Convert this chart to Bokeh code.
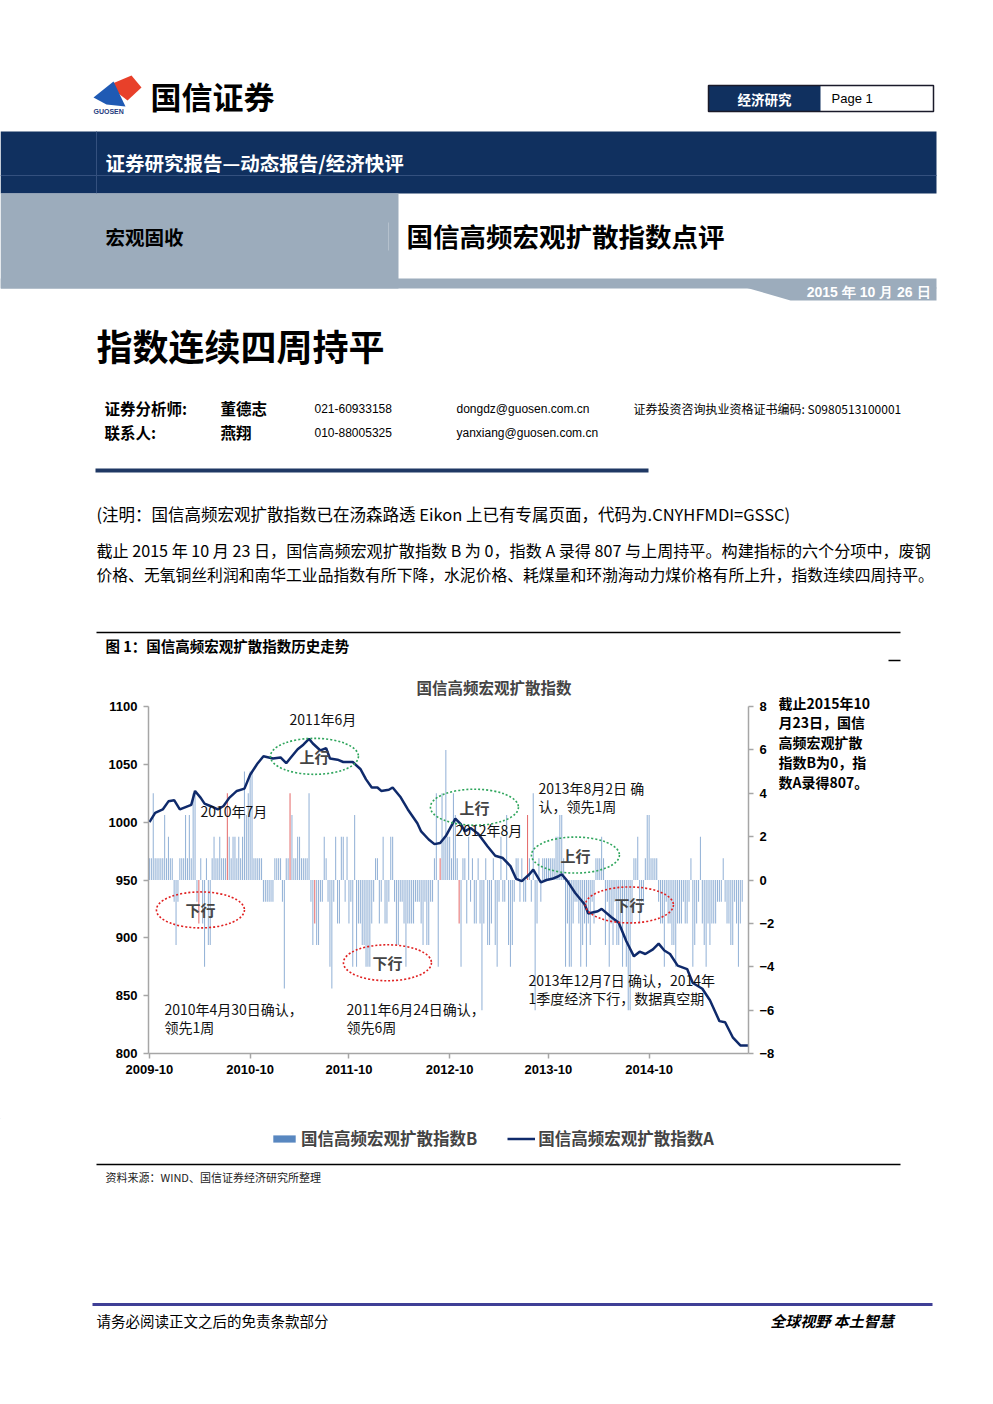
from bokeh.plotting import figure
from bokeh.models import Range1d, LinearAxis, FixedTicker, Legend, LegendItem, Label
from bokeh.layouts import column, row
from bokeh.embed import file_html
from bokeh.resources import INLINE
from bokeh.core.properties import value

CJK = "Noto Sans CJK SC"
LAT = "Liberation Sans"

# ---------------- data ----------------
tick_weeks = [0, 53, 105, 158, 210, 263]
tick_labels = ["2009-10", "2010-10", "2011-10", "2012-10", "2013-10", "2014-10"]
left_ticks = [800, 850, 900, 950, 1000, 1050, 1100]
right_ticks = [-8, -6, -4, -2, 0, 2, 4, 6, 8]
series_names = ["国信高频宏观扩散指数B", "国信高频宏观扩散指数A"]

# weekly diffusion index B (week 0 = early Oct 2009)
b_2009 = [1, 1, 4, 1, 1, 1, 1, 1, 3, 1, 2, 1, 1, -1, -3, -1, 1, 1, 1, 3,
          1, 3, 1, 4, 4, -1, -2, 1, -2, -4, 1, -3, -3, 1, 2, 1, 1, 2, 1, 1,
          1, 4, 2, 1, 2, 2, 1, 2, 1, 2, 5, 3, 4]
b_2010 = [5, 5, 1, 1, 1, 1, 1, -1, -1, -1, -1, -1, -1, 1, 1, 1, 1,
          -1, -5, 1, 1, 4, 3, 1, 1, 2, 2, 1, 1, 1, 1, 4, -1, -3, -2, -3, -3,
          -1, -1, 2, 1, -1, -4, -5, -1, 2, -2, -2, 2, 2, -1, 2, -2]
b_2011 = [-1, -4, 3, -4, -2, -2, -3, -3, -4, -4, -4, -2, -1, 1, 1, -2, -1, 2,
          -2, -2, -1, 2, 2, -1, -3, -3, -1, -1, -2, -4, -2, -2, -2, -2, -1, -1,
          -1, -2, -3, -1, -3, -3, -1, -1, 1, 4, -4, 1, 4, 2, 6, 2, 2]
b_2012 = [1, 4, 3, 1, -2, -4, 1, 1, -2, 2, -1, 1, -2, -2, 1, -2, -6, -2, 1,
          -3, -3, -2, 1, -3, -4, -1, 2, -1, -1, 3, -3, -4, -3, -1, 1, 1, -1, 1,
          -1, -1, 3, 1, -1, 4, -6, -2, 1, -1, 1, 1, 1, 1]
b_2013 = [1, 1, 1, 2, 2, 3, 3, 1, -4, -2, -4, -4, -2, -1, -1, -2, -4, -3,
          -2, -4, -2, -3, -1, -2, 1, 1, 1, 2, 1, -3, -1, -4, -2, -3, -1, -3,
          -3, -2, -4, -1, -4, -6, -6, -2, 1, 1, 2, -2, -1, -1, 1, 3, 3]
b_2014 = [1, 1, 1, 1, -1, -2, -2, -4, -1, -2, -2, -3, -3, -4, -2, -2, -2,
          -1, -2, -2, -1, 1, -4, -3, -2, -1, 2, -2, -3, -4, -2, -3, -2, -2, -2,
          -1, -1, -1, 1, -1, -2, -2, -3, -3, -1, -2, -4, -2, -1, 0, 0, 0, 0]
b_values = b_2009 + b_2010 + b_2011 + b_2012 + b_2013 + b_2014
highlight_weeks = [26, 41, 74, 87, 153, 163, 199]

# index A, read at turning points of the line
a_weeks = [0, 3, 7, 10, 13, 16, 19, 22, 24, 27, 29, 32, 36, 39, 42, 46, 50, 53, 57,
           60, 65, 69, 72, 74, 78, 81, 84, 86, 90, 93, 95, 99, 102, 107, 111, 114,
           117, 120, 122, 126, 128, 132, 136, 141, 143, 147, 150, 153, 156, 161,
           164, 166, 169, 173, 178, 182, 186, 190, 193, 196, 200, 202, 206, 209,
           212, 215, 217, 220, 224, 229, 231, 236, 238, 243, 247, 251, 255, 258,
           261, 265, 268, 271, 274, 278, 283, 286, 291, 295, 300, 303, 307, 311, 316]
a_values = [1000, 1008, 1011, 1018, 1019, 1011, 1013, 1015, 1027, 1021, 1016, 1014,
            1011, 1014, 1021, 1027, 1029, 1041, 1051, 1057, 1055, 1056, 1051, 1055,
            1063, 1067, 1072, 1068, 1062, 1064, 1055, 1054, 1052, 1052, 1046, 1037,
            1030, 1030, 1027, 1028, 1030, 1022, 1011, 999, 992, 985, 981, 982, 988,
            1003, 998, 992, 995, 990, 979, 971, 969, 962, 951, 949, 955, 959, 948,
            950, 951, 953, 955, 949, 939, 929, 921, 923, 925, 918, 913, 897, 884,
            888, 886, 890, 895, 889, 886, 876, 873, 861, 856, 846, 828, 827, 814,
            807, 807]

W = 977
TOP1 = 665        # page y where the chart block starts
CH1 = 1118        # page y where the chart block ends
BOT1 = 1396
CHART_W = 778     # chart figure width; side-note figure fills the rest

BAR_COLOR, BAR_ALPHA = "#4f81bd", 0.6
LINE_COLOR = "#0f2a6b"


def page_fig(x0, x1, y0, y1):
    p = figure(width=x1 - x0, height=y1 - y0, x_range=Range1d(x0, x1), y_range=Range1d(y1, y0),
               x_axis_type=None, y_axis_type=None, toolbar_location=None,
               output_backend="svg", min_border=0, outline_line_color=None)
    p.background_fill_color = "white"
    p.border_fill_color = "white"
    p.frame_align = False
    return p


def txt(p, x, y, s, size, bold=False, color="black", align="left", font=CJK, italic=False):
    style = "normal"
    if bold and italic:
        style = "bold italic"
    elif bold:
        style = "bold"
    elif italic:
        style = "italic"
    p.text(x=[x], y=[y], text=[s], text_font=value(font), text_font_size=value(f"{size}px"),
           text_font_style=style, text_color=color, text_align=align, text_baseline="middle")


NAVY = "#10305f"
GRAY = "#9cacbc"

# ---------------- top page part ----------------
top = page_fig(0, W, 0, TOP1)
top.patch([112, 131, 141, 127, 118], [83, 75, 87, 100, 93], color="#e8402a", line_color=None)
top.patch([93, 113, 125, 106], [97, 81, 106, 104], color="#1f5ab4", line_color=None)
txt(top, 93, 111, "GUOSEN", 7, bold=True, color="#1f3c80", font=LAT)
txt(top, 150, 95, "国信证券", 31, bold=True)
top.quad(left=[708], right=[820], top=[85], bottom=[111], color=NAVY, line_color=None)
top.quad(left=[708], right=[933], top=[85], bottom=[111], fill_color=None, line_color="#1a1a2a", line_width=1.5)
txt(top, 764, 98, "经济研究", 13.5, bold=True, color="white", align="center")
txt(top, 831, 98, "Page 1", 13, font=LAT)
top.quad(left=[0], right=[936], top=[131], bottom=[193], color=NAVY, line_color=None)
top.line([0, 936], [175, 175], line_color="#34507e", line_width=1)
top.line([96, 96], [131, 193], line_color="#34507e", line_width=1)
txt(top, 105, 162, "证券研究报告—动态报告/经济快评", 19.5, bold=True, color="white")
top.quad(left=[0], right=[398], top=[193], bottom=[288], color=GRAY, line_color=None)
top.quad(left=[0], right=[936], top=[278], bottom=[288], color=GRAY, line_color=None)
top.patch([745, 790, 936, 936], [287, 300, 300, 287], color=GRAY, line_color=None)
top.line([388, 388], [222, 250], line_color="#b5c1cd", line_width=1)
txt(top, 105, 236, "宏观固收", 19.5, bold=True)
txt(top, 406, 235, "国信高频宏观扩散指数点评", 26.5, bold=True)
txt(top, 930, 291, "2015 年 10 月 26 日", 14, bold=True, color="white", align="right", font=LAT)
txt(top, 96, 344, "指数连续四周持平", 36, bold=True)
txt(top, 104, 407, "证券分析师:", 15.5, bold=True)
txt(top, 220, 407, "董德志", 15.5, bold=True)
txt(top, 314, 408, "021-60933158", 12, font=LAT)
txt(top, 456, 408, "dongdz@guosen.com.cn", 12, font=LAT)
txt(top, 633, 408, "证券投资咨询执业资格证书编码: S0980513100001", 12)
txt(top, 104, 431, "联系人:", 15.5, bold=True)
txt(top, 220, 431, "燕翔", 15.5, bold=True)
txt(top, 314, 432, "010-88005325", 12, font=LAT)
txt(top, 456, 432, "yanxiang@guosen.com.cn", 12, font=LAT)
top.line([95, 648], [470, 470], line_color="#1f3864", line_width=4)
txt(top, 96, 513, "(注明：国信高频宏观扩散指数已在汤森路透 Eikon 上已有专属页面，代码为.CNYHFMDI=GSSC)", 16.5)
txt(top, 96, 549, "截止 2015 年 10 月 23 日，国信高频宏观扩散指数 B 为 0，指数 A 录得 807 与上周持平。构建指标的六个分项中，废钢", 16.1)
txt(top, 96, 574, "价格、无氧铜丝利润和南华工业品指数有所下降，水泥价格、耗煤量和环渤海动力煤价格有所上升，指数连续四周持平。", 15.8)
top.line([96, 900], [632, 632], line_color="black", line_width=1.5)
txt(top, 105, 645, "图 1：国信高频宏观扩散指数历史走势", 14.5, bold=True)
top.line([888, 900], [660, 660], line_color="black", line_width=1.5)

# ---------------- chart ----------------
c = figure(width=CHART_W, height=CH1 - TOP1, x_range=Range1d(-0.5, 315.3), y_range=Range1d(800, 1100),
           toolbar_location=None, output_backend="svg", min_border_left=148, min_border_right=30,
           min_border_top=40, min_border_bottom=CH1 - 1053, outline_line_color=None)
c.frame_align = False
c.background_fill_color = "white"
c.border_fill_color = "white"
c.xgrid.visible = False
c.ygrid.visible = False
c.extra_y_ranges = {"b": Range1d(-8, 8)}
c.title.text = "国信高频宏观扩散指数"
c.title.text_font = CJK
c.title.text_font_size = "15.5px"
c.title.text_font_style = "bold"
c.title.align = "left"
c.title.offset = 268
c.title.standoff = 17

c.xaxis.ticker = FixedTicker(ticks=tick_weeks)
c.xaxis.major_label_overrides = {w: l for w, l in zip(tick_weeks, tick_labels)}
c.yaxis.ticker = FixedTicker(ticks=left_ticks)
rax = LinearAxis(y_range_name="b", ticker=FixedTicker(ticks=right_ticks))
c.add_layout(rax, "right")
for ax in [c.xaxis[0], c.yaxis[0], rax]:
    ax.axis_line_color = "#a6a6a6"
    ax.axis_line_width = 1.5
    ax.major_tick_line_color = "#a6a6a6"
    ax.major_tick_line_width = 1.5
    ax.major_tick_out = 5
    ax.major_tick_in = 0
    ax.minor_tick_line_color = None
    ax.major_label_text_font = LAT
    ax.major_label_text_font_size = "13px"
    ax.major_label_text_font_style = "bold"
    ax.major_label_text_color = "black"
    ax.major_label_standoff = 6

weeks = list(range(len(b_values)))
nx = [w for w in weeks if w not in highlight_weeks]
ny = [b_values[w] for w in nx]
hx = [w for w in highlight_weeks]
hy = [b_values[w] for w in hx]
c.vbar(x=nx, top=ny, bottom=0, width=0.55, y_range_name="b",
       fill_color=BAR_COLOR, fill_alpha=BAR_ALPHA, line_color=None)
c.vbar(x=hx, top=hy, bottom=0, width=0.55, y_range_name="b",
       fill_color="#e05555", fill_alpha=0.85, line_color=None)
c.line(a_weeks, a_values, line_color=LINE_COLOR, line_width=2.5)


def pw(x):
    return (x - 149) / 1.9


def pv(y):
    return 800 + (1053 - y) / 1.16


ell = [(314, 755, "#2ea55c", "上行"), (474, 806, "#2ea55c", "上行"), (575, 854, "#2ea55c", "上行"),
       (200, 909, "#e02020", "下行"), (387, 962, "#e02020", "下行"), (629, 904, "#e02020", "下行")]
c.ellipse(x=[pw(e[0]) for e in ell], y=[pv(e[1]) for e in ell], width=88, height=36,
          width_units="screen", height_units="screen", fill_color=None,
          line_color=[e[2] for e in ell], line_dash="2 2", line_width=1.6)
for ex, ey, col, t in ell:
    c.add_layout(Label(x=pw(ex), y=pv(ey), text=t, text_font=CJK, text_font_size="15px",
                       text_font_style="bold", text_align="center", text_baseline="middle"))

notes = [("2011年6月", 289, 718), ("2010年7月", 200, 810), ("2012年8月", 455, 829),
         ("2013年8月2日 确", 538, 787), ("认，领先1周", 538, 805),
         ("2013年12月7日 确认，2014年", 528, 979), ("1季度经济下行，数据真空期", 528, 997),
         ("2010年4月30日确认，", 164, 1008), ("领先1周", 164, 1026),
         ("2011年6月24日确认，", 346, 1008), ("领先6周", 346, 1026)]
for t, x, y in notes:
    c.add_layout(Label(x=pw(x), y=pv(y), text=t, text_font=CJK, text_font_size="14px",
                       text_align="left", text_baseline="middle", text_color="#111111"))

# side note next to the chart
side = page_fig(CHART_W, W, TOP1, CH1)
side_lines = ["截止2015年10", "月23日，国信", "高频宏观扩散", "指数B为0，指", "数A录得807。"]
for i, s in enumerate(side_lines):
    txt(side, CHART_W, 702 + i * 19.8, s, 14, bold=True)

# ---------------- bottom page part (legend + source + footer) ----------------
bot = page_fig(0, W, CH1, BOT1)
# legend swatches: same styles as the chart series; their single point lies outside this panel's range
lb = bot.vbar(x=[weeks[0]], top=[b_values[0]], bottom=0, width=1,
              fill_color=BAR_COLOR, fill_alpha=0.95, line_color=None)
ll = bot.line(x=a_weeks[:2], y=a_values[:2], line_color=LINE_COLOR, line_width=2.5)
legend = Legend(items=[LegendItem(label=series_names[0], renderers=[lb]),
                       LegendItem(label=series_names[1], renderers=[ll])],
                orientation="horizontal", location=(270, BOT1 - 1150), label_text_font=CJK,
                label_text_font_size="16.5px", label_text_font_style="bold",
                glyph_width=28, glyph_height=9, spacing=30, padding=0, margin=0,
                label_standoff=3, label_height=20, border_line_color=None,
                background_fill_alpha=0)
bot.add_layout(legend)
bot.line([96, 900], [1164, 1164], line_color="black", line_width=1.5)
txt(bot, 105, 1176, "资料来源：WIND、国信证券经济研究所整理", 11, color="#222222")
bot.line([92, 932], [1304, 1304], line_color="#3f3f96", line_width=3)
txt(bot, 96, 1320, "请务必阅读正文之后的免责条款部分", 14.5)
txt(bot, 900, 1320, "全球视野   本土智慧", 15, bold=True, italic=True, align="right")

page = column(top, row(c, side, spacing=0), bot, spacing=0)
open("out.html", "w").write(file_html(page, INLINE))
